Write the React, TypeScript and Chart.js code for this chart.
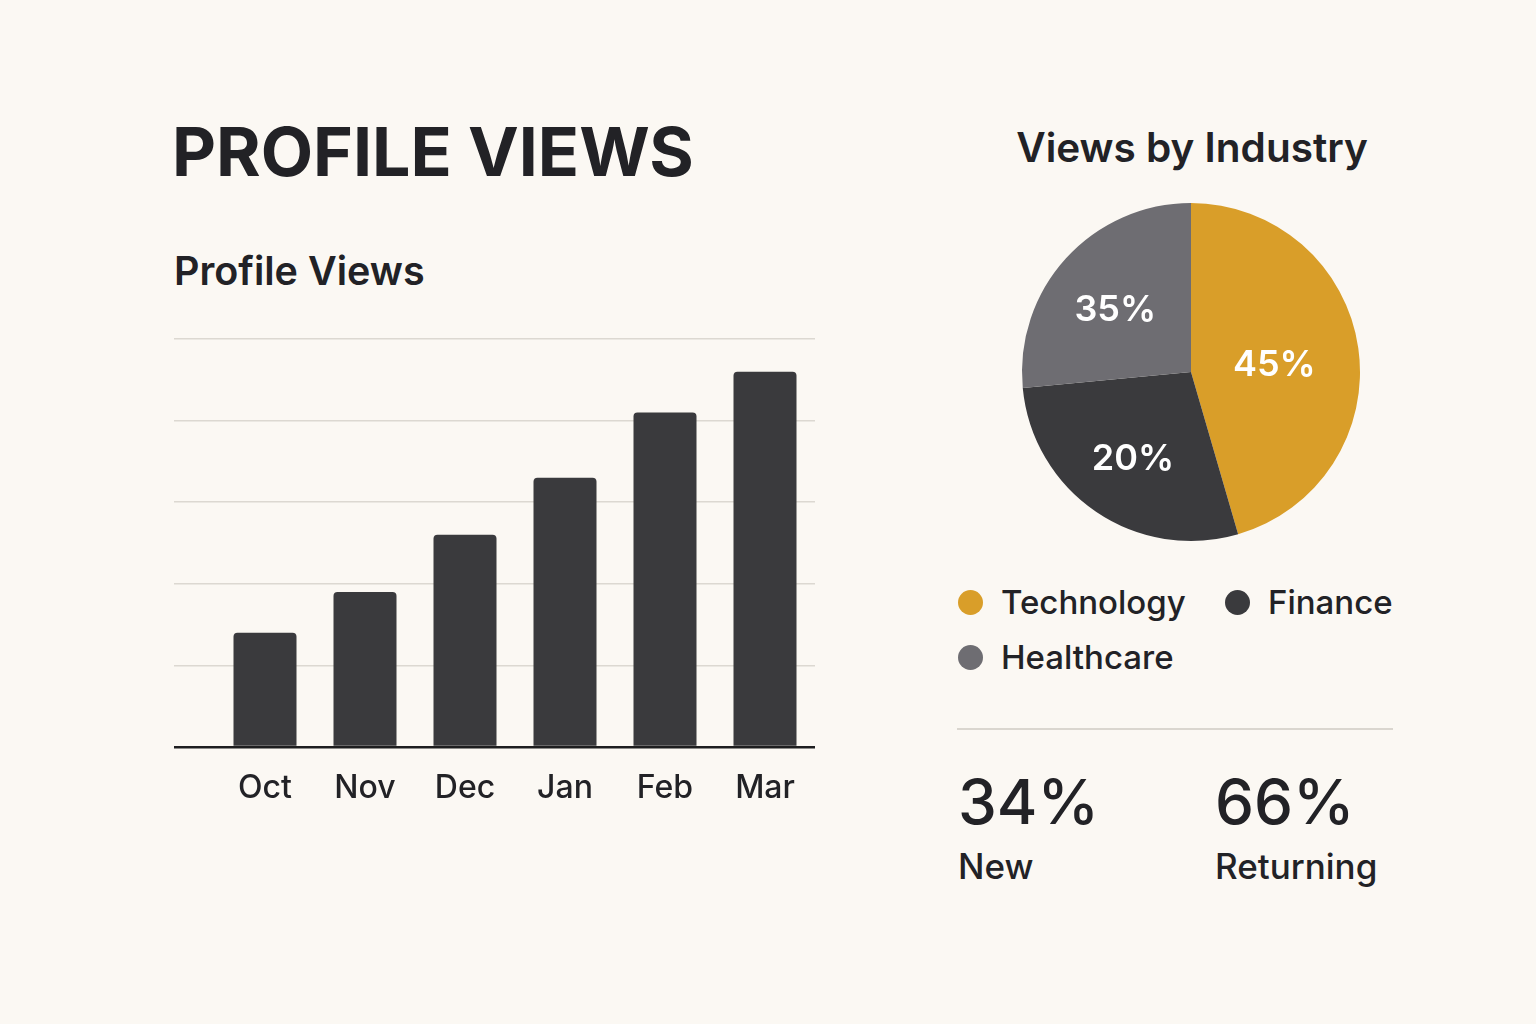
import React, { useEffect, useRef } from "react";
import { Chart, registerables } from "chart.js";

Chart.register(...registerables);

const months = ["Oct", "Nov", "Dec", "Jan", "Feb", "Mar"];
const profileViews = [28, 38, 52, 66, 82, 92];
const yTicks = [0, 20, 40, 60, 80, 100];

const industries = ["Technology", "Finance", "Healthcare"];
const industryShares = [45.5, 28, 26.5];
const industryLabels = ["45%", "20%", "35%"];
const industryColors = ["#D99E29", "#3A3A3D", "#6E6D72"];

const visitorKinds = ["New", "Returning"];
const visitorShares = ["34%", "66%"];

const BG = "#FBF8F3";
const INK = "#222226";
const FONT = "Inter, 'Noto Sans', sans-serif";

export default function App() {
  const barRef = useRef<HTMLCanvasElement | null>(null);
  const pieRef = useRef<HTMLCanvasElement | null>(null);

  useEffect(() => {
    document.body.style.margin = "0";
    document.body.style.background = BG;
    const bar = new Chart(barRef.current!, {
      type: "bar",
      data: {
        labels: months,
        datasets: [
          {
            data: profileViews,
            backgroundColor: "#3A3A3D",
            borderRadius: 4,
            borderSkipped: "start",
            barPercentage: 0.63,
            categoryPercentage: 1,
          },
        ],
      },
      options: {
        animation: false,
        responsive: false,
        maintainAspectRatio: false,
        layout: { padding: { left: 54, top: 19, right: 25, bottom: 0 } },
        plugins: { legend: { display: false }, tooltip: { enabled: false } },
        scales: {
          x: {
            grid: { display: false, drawTicks: false },
            border: { display: false },
            ticks: {
              padding: 22,
              color: INK,
              font: { family: FONT, size: 32, weight: 500 },
            },
            afterFit: (s: any) => {
              s.height = 73;
            },
          },
          y: {
            min: 0,
            max: 100,
            afterBuildTicks: (s: any) => {
              s.ticks = yTicks.map((v) => ({ value: v }));
            },
            border: { display: false },
            grid: {
              drawTicks: true,
              tickLength: 41,
              color: (c: any) => (c.tick && c.tick.value === 0 ? "#1E1E20" : "#DCD8D1"),
              tickColor: (c: any) => (c.tick && c.tick.value === 0 ? "#1E1E20" : "#DCD8D1"),
              lineWidth: (c: any) => (c.tick && c.tick.value === 0 ? 2.5 : 1.5),
              tickWidth: (c: any) => (c.tick && c.tick.value === 0 ? 2.5 : 1.5),
            },
            ticks: { display: false },
            afterFit: (s: any) => {
              s.width = 41;
            },
          },
        },
      },
    });

    const labelPlugin = {
      id: "sliceLabels",
      afterDatasetsDraw(chart: any) {
        const ctx = chart.ctx;
        const meta = chart.getDatasetMeta(0);
        const fracs = [0.51, 0.59, 0.59];
        ctx.save();
        ctx.fillStyle = "#FFFFFF";
        ctx.font = `600 36px ${FONT}`;
        ctx.textAlign = "center";
        ctx.textBaseline = "middle";
        meta.data.forEach((arc: any, i: number) => {
          const p = arc.getProps(["x", "y", "startAngle", "endAngle", "outerRadius"], true);
          const mid = (p.startAngle + p.endAngle) / 2;
          const r = p.outerRadius * fracs[i];
          ctx.fillText(industryLabels[i], p.x + Math.cos(mid) * r - 2, p.y + Math.sin(mid) * r + 5);
        });
        ctx.restore();
      },
    };

    const pie = new Chart(pieRef.current!, {
      type: "pie",
      data: {
        labels: industries,
        datasets: [
          {
            data: industryShares,
            backgroundColor: industryColors,
            borderWidth: 0,
            hoverOffset: 0,
            offset: 0,
          },
        ],
      },
      options: {
        animation: false,
        responsive: false,
        maintainAspectRatio: false,
        layout: { padding: 11 },
        plugins: { legend: { display: false }, tooltip: { enabled: false } },
      },
      plugins: [labelPlugin],
    });

    return () => {
      bar.destroy();
      pie.destroy();
    };
  }, []);

  const abs = (o: React.CSSProperties): React.CSSProperties => ({ position: "absolute", whiteSpace: "nowrap", ...o });

  return (
    <div style={{ position: "relative", width: 1536, height: 1024, background: BG, fontFamily: FONT, color: INK, overflow: "hidden" }}>
      <div style={abs({ left: 172, top: 117, fontSize: 68, lineHeight: "68px", fontWeight: 700 })}>PROFILE VIEWS</div>
      <div style={abs({ left: 174, top: 251, fontSize: 39.5, lineHeight: "40px", fontWeight: 600 })}>Profile Views</div>
      <canvas ref={barRef} width={720} height={500} style={abs({ left: 120, top: 320, width: 720, height: 500 })} />

      <div style={abs({ left: 992, width: 400, textAlign: "center", top: 128, fontSize: 40.5, lineHeight: "40px", fontWeight: 600 })}>Views by Industry</div>
      <canvas ref={pieRef} width={360} height={360} style={abs({ left: 1011, top: 192, width: 360, height: 360 })} />

      {industries.map((name, i) => {
        const pos = [
          { cx: 970, cy: 602, tx: 1001 },
          { cx: 1237, cy: 602, tx: 1268 },
          { cx: 970, cy: 657, tx: 1001 },
        ][i];
        return (
          <React.Fragment key={name}>
            <div style={abs({ left: pos.cx - 12.5, top: pos.cy - 12.5, width: 25, height: 25, borderRadius: "50%", background: industryColors[i] })} />
            <div style={abs({ left: pos.tx, top: pos.cy - 17, fontSize: 33, lineHeight: "34px", fontWeight: 500 })}>{name}</div>
          </React.Fragment>
        );
      })}

      <div style={abs({ left: 957, top: 728, width: 436, height: 1.5, background: "#DAD6CF" })} />

      {visitorKinds.map((k, i) => {
        const left = [958, 1215][i];
        return (
          <React.Fragment key={k}>
            <div style={abs({ left, top: 771, fontSize: 62, lineHeight: "62px", fontWeight: 500 })}>{visitorShares[i]}</div>
            <div style={abs({ left, top: 849, fontSize: 35, lineHeight: "34px", fontWeight: 500 })}>{k}</div>
          </React.Fragment>
        );
      })}
    </div>
  );
}
